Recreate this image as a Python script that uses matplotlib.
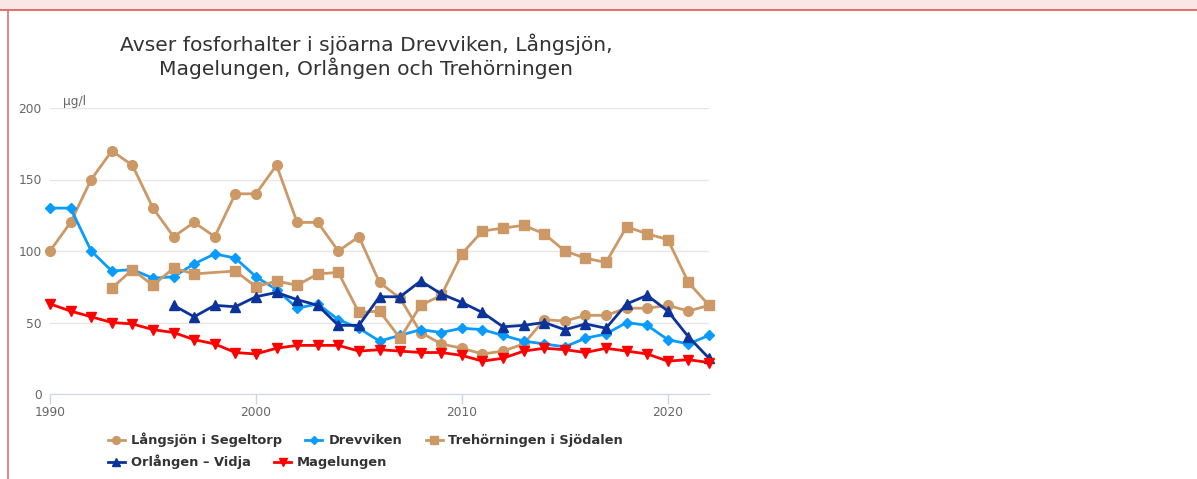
import matplotlib.pyplot as plt
from matplotlib.patches import Rectangle
from matplotlib.lines import Line2D

# Data (µg/l)
years_langsjon = list(range(1990, 2023))
langsjon = [100, 120, 150, 170, 160, 130, 110, 120, 110, 140, 140, 160, 120, 120,
            100, 110, 78, 67, 43, 35, 32, 28, 30, 35, 52, 51, 55, 55, 60, 60, 62, 58, 62]

years_drevviken = list(range(1990, 2023))
drevviken = [130, 130, 100, 86, 87, 81, 82, 91, 98, 95, 82, 73, 60, 63, 52, 46, 37,
             41, 45, 43, 46, 45, 41, 37, 35, 33, 39, 42, 50, 48, 38, 35, 41]

years_trehorningen = [1993, 1994, 1995, 1996, 1997, 1999, 2000, 2001, 2002, 2003, 2004,
                      2005, 2006, 2007, 2008, 2009, 2010, 2011, 2012, 2013, 2014, 2015,
                      2016, 2017, 2018, 2019, 2020, 2021, 2022]
trehorningen = [74, 87, 76, 88, 84, 86, 75, 79, 76, 84, 85, 57, 58, 39, 62, 69, 98,
                114, 116, 118, 112, 100, 95, 92, 117, 112, 108, 78, 62]

years_orlangen = list(range(1996, 2023))
orlangen = [62, 54, 62, 61, 68, 71, 66, 62, 48, 48, 68, 68, 79, 70, 64, 57, 47, 48,
            50, 45, 49, 46, 63, 69, 58, 40, 25]

years_magelungen = list(range(1990, 2023))
magelungen = [63, 58, 54, 50, 49, 45, 43, 38, 35, 29, 28, 32, 34, 34, 34, 30, 31, 30,
              29, 29, 27, 23, 25, 30, 32, 31, 29, 32, 30, 28, 23, 24, 22]

tan = "#CC9966"
light_blue = "#0A9BFF"
navy = "#0B3399"
red = "#FF0000"

W, H = 1197, 479
fig = plt.figure(figsize=(W / 100, H / 100), dpi=100)

# screenshot frame: pink band on top, red borders
fig.patches.append(Rectangle((0, 1 - 10 / H), 1, 10 / H, transform=fig.transFigure,
                             facecolor="#FBE6E6", edgecolor="none", zorder=0))
fig.add_artist(Line2D([0, 1], [1 - 10 / H] * 2, transform=fig.transFigure,
                      color="#E05555", lw=1.2))
fig.add_artist(Line2D([7.5 / W] * 2, [0, 1 - 10 / H], transform=fig.transFigure,
                      color="#E07070", lw=1.2))

ax = fig.add_axes([50 / W, 1 - 394 / H, 659 / W, 286 / H])

ax.plot(years_langsjon, langsjon, color=tan, lw=2, marker="o", ms=7,
        label="Långsjön i Segeltorp", clip_on=False, zorder=3)
ax.plot(years_drevviken, drevviken, color=light_blue, lw=2, marker="D", ms=5.5,
        label="Drevviken", clip_on=False, zorder=3)
ax.plot(years_trehorningen, trehorningen, color=tan, lw=2, marker="s", ms=7,
        label="Trehörningen i Sjödalen", clip_on=False, zorder=3)
ax.plot(years_orlangen, orlangen, color=navy, lw=2, marker="^", ms=7.5,
        label="Orlången – Vidja", clip_on=False, zorder=3)
ax.plot(years_magelungen, magelungen, color=red, lw=2, marker="v", ms=7.5,
        label="Magelungen", clip_on=False, zorder=3)

ax.set_xlim(1990, 2022)
ax.set_ylim(0, 200)
ax.set_xticks([1990, 2000, 2010, 2020])
ax.set_yticks([0, 50, 100, 150, 200])
ax.grid(axis="y", color="#E6E6E6", lw=1)
ax.set_axisbelow(True)
for s in ["top", "right", "left"]:
    ax.spines[s].set_visible(False)
ax.spines["bottom"].set_color("#CCD6EB")
ax.tick_params(axis="x", length=7, width=1, color="#CCD6EB", pad=2,
               labelsize=8.8, labelcolor="#666666")
ax.tick_params(axis="y", length=0, pad=6, labelsize=8.8, labelcolor="#666666")

fig.text(63 / W, 1 - 101 / H, "µg/l", fontsize=8.8, color="#666666", va="center")

fig.text(366 / W, 1 - 56 / H,
         "Avser fosforhalter i sjöarna Drevviken, Långsjön,\nMagelungen, Orlången och Trehörningen",
         ha="center", va="center", fontsize=14.6, color="#333333",
         family="DejaVu Sans", linespacing=1.12)

h, l = ax.get_legend_handles_labels()
leg_kw = dict(frameon=False, handlelength=1.3, handletextpad=0.45, columnspacing=1.8,
              borderpad=0, borderaxespad=0, markerscale=0.8,
              prop={"weight": "bold", "size": 9.4})
leg1 = fig.legend(h[:3], l[:3], ncol=3, loc="center left",
                  bbox_to_anchor=(108 / W, 1 - 440 / H), labelcolor="#333333", **leg_kw)
leg2 = fig.legend(h[3:], l[3:], ncol=2, loc="center left",
                  bbox_to_anchor=(108 / W, 1 - 462 / H), labelcolor="#333333", **leg_kw)

fig.savefig("out.png", dpi=100)
